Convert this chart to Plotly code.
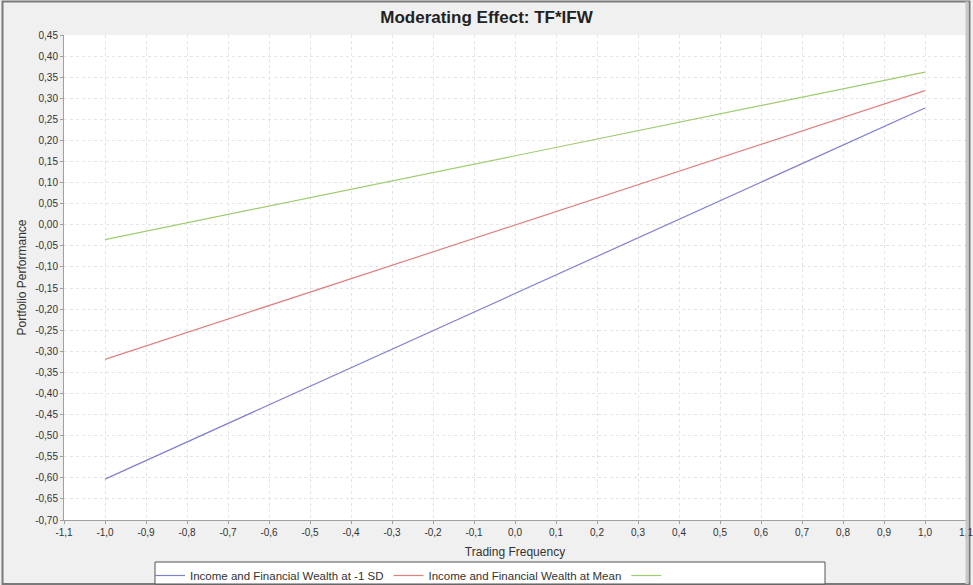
import plotly.graph_objects as go

# Data
x_vals = [-1.0, 1.0]
sd_minus = [-0.603, 0.277]
at_mean = [-0.319, 0.318]
sd_plus = [-0.035, 0.362]
series_names = ["Income and Financial Wealth at -1 SD", "Income and Financial Wealth at Mean", ""]
series_colors = ["#7f7fcf", "#df8080", "#a0cc70"]

x_ticks = [round(-1.1 + 0.1 * i, 1) for i in range(23)]
y_ticks = [round(-0.70 + 0.05 * i, 2) for i in range(24)]
x_ticktext = [("%.1f" % v).replace(".", ",") for v in x_ticks]
y_ticktext = [("%.2f" % v).replace(".", ",") for v in y_ticks]

W, H = 973, 585
L, R, T, B = 64, 7, 35, 65
pw, ph = W - L - R, H - T - B

fig = go.Figure()
for ys, nm, col in zip([sd_minus, at_mean, sd_plus], series_names, series_colors):
    fig.add_trace(go.Scatter(x=x_vals, y=ys, mode="lines", name=nm,
                             line=dict(color=col, width=1.2)))

def px_x(p):
    return (p - L) / pw

def px_y(p):
    return (H - B - p) / ph

fig.update_layout(
    width=W, height=H,
    margin=dict(l=L, r=R, t=T, b=B, autoexpand=False),
    paper_bgcolor="#f0f0f0",
    plot_bgcolor="#ffffff",
    font=dict(family="Liberation Sans, Arial, sans-serif", color="#333333"),
    title=dict(text="<b>Moderating Effect: TF*IFW</b>", x=0.5, xanchor="center",
               y=1 - 17 / H, yanchor="middle", font=dict(size=17, color="#222222")),
    xaxis=dict(range=[-1.1, 1.1], tickvals=x_ticks, ticktext=x_ticktext,
               showgrid=True, gridcolor="#e4e4e4", griddash="dot", gridwidth=1,
               zeroline=False, showline=True, linecolor="#a0a0a0", linewidth=1,
               ticks="outside", ticklen=3, tickcolor="#a0a0a0",
               ticklabeloverflow="allow",
               tickfont=dict(size=10, color="#333333"),
               title=dict(text="Trading Frequency", font=dict(size=12, color="#333333"), standoff=10)),
    yaxis=dict(range=[-0.70, 0.45], tickvals=y_ticks, ticktext=y_ticktext,
               showgrid=True, gridcolor="#e4e4e4", griddash="dot", gridwidth=1,
               zeroline=False, showline=True, linecolor="#a0a0a0", linewidth=1,
               ticks="outside", ticklen=3, tickcolor="#a0a0a0",
               tickfont=dict(size=10, color="#333333"),
               title=dict(text="Portfolio Performance", font=dict(size=12, color="#333333"), standoff=6)),
    showlegend=True,
    legend=dict(orientation="h", x=px_x(150), xanchor="left", y=px_y(561), yanchor="top",
                bgcolor="rgba(0,0,0,0)", borderwidth=0,
                font=dict(size=11.5, color="#333333"), itemwidth=30,
                tracegroupgap=0),
    shapes=[
        dict(type="rect", xref="paper", yref="paper",
             x0=px_x(2.5), x1=px_x(969.5), y0=px_y(584), y1=px_y(1.5),
             line=dict(color="#7a7a7a", width=2), layer="below"),
        dict(type="line", xref="paper", yref="paper",
             x0=px_x(967), x1=px_x(967), y0=px_y(584), y1=px_y(1.5),
             line=dict(color="#c8c8c8", width=3)),
        dict(type="rect", xref="paper", yref="paper",
             x0=px_x(155), x1=px_x(825), y0=px_y(584), y1=px_y(562),
             fillcolor="#ffffff", line=dict(color="#555555", width=1), layer="below"),
    ],
)

fig.write_html("out.html",
               config={"displayModeBar": False},
               post_script="document.body.style.margin='0';document.body.style.overflow='hidden';")
